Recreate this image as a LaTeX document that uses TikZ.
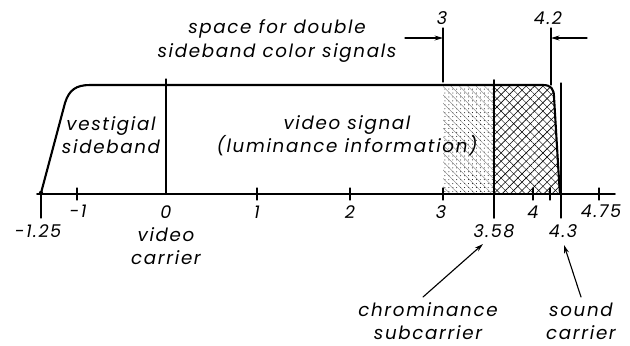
\documentclass[tikz,border=0pt]{standalone}
\usepackage{fontspec}
\setmainfont{Poppins}[LetterSpace=9]
\usetikzlibrary{arrows.meta,patterns.meta}
\tikzset{
  every picture/.style={
    line join=round,
    line cap=round,
    >={Stealth[length=6pt,width=3.5pt]},
  },
  lbl/.style={font=\fontsize{13}{16.5}\selectfont\itshape, align=center, inner sep=0pt},
  num/.style={font=\fontsize{12.5}{14}\selectfont\itshape, inner sep=0pt},
  axisline/.style={line width=1.2pt},
  envelope/.style={line width=1.5pt},
  marker/.style={line width=0.8pt},
  hatchR/.style={pattern={Lines[angle=45,distance=4.2pt,line width=0.45pt]}},
  hatchRx/.style={pattern={Lines[angle=-45,distance=4.2pt,line width=0.3pt]}},
  hatchL/.style={pattern={Dots[distance=2.8pt,radius=0.35pt]}},
  hatchLx/.style={pattern={Lines[angle=-45,distance=4.2pt,line width=0.25pt]}, pattern color=black!55},
}

\begin{document}
\begin{tikzpicture}[x=0.025cm, y=-0.025cm]
\useasboundingbox (0,0) rectangle (630,345);

% colour band, 3 to 4.2
\fill[hatchL]  (443,85) rectangle (494,194);
\fill[hatchLx] (443,85) rectangle (494,194);
\fill[hatchR]
  (494,85) -- (543,85) .. controls (551,85) and (554,89) .. (554,97)
  -- (559,180) -- (560,194) -- (494,194) -- cycle;
\fill[hatchRx]
  (494,85) -- (543,85) .. controls (551,85) and (554,89) .. (554,97)
  -- (559,180) -- (560,194) -- (494,194) -- cycle;

% envelope
\draw[envelope] (41,193) -- (65,103) .. controls (69,90) and (76,85) .. (90,85)
  -- (543,85) .. controls (551,85) and (554,89) .. (554,97) -- (559,180) -- (560,194);
\fill (41,193) circle (2.2);

% axis
\draw[axisline] (37,194) -- (615,194);
\foreach \x in {77,257,350,443,533,550,599}
  \draw[marker] (\x,188) -- (\x,200);
\foreach \x in {41,561}
  \draw[marker] (\x,194) -- (\x,218);
\draw[marker] (561,83) -- (561,194);
\draw[marker] (166,79) -- (166,194);
\draw[line width=1.3pt] (494,80) -- (494,218);

% scale numbers
\node[num] (m125) at (38,231) {-1.25};
\node[num] (m1)   at (78,211) {-1};
\node[num] (z0)   at (166,212) {0};
\node[num] (p1)   at (257,212) {1};
\node[num] (p2)   at (350,212) {2};
\node[num] (p3)   at (441,212) {3};
\node[num] (p4)   at (533,212) {4};
\node[num] (p475) at (601,211) {4.75};
\node[num] (p358) at (494,231) {3.58};
\node[num] (p43)  at (563,231) {4.3};
\node[lbl] (vcar) at (166,246) {video\\carrier};

% band labels
\node[lbl] (vest) at (111,135) {vestigial\\sideband};
\node[lbl] (vsig) at (347,136) {video signal\\(luminance information)};
\node[lbl] (dsb)  at (277,41)  {space for double\\sideband color signals};

% 3 and 4.2 markers
\node[num] (t3)  at (442,18) {3};
\node[num] (t42) at (548,18) {4.2};
\coordinate (d3a) at (443,28);  \coordinate (d3b) at (443,82);
\coordinate (d42a) at (551,28); \coordinate (d42b) at (551,85);
\draw[marker] (d3a) -- (d3b);
\draw[marker] (d42a) -- (d42b);
\draw[marker,->] (405,38) -- (d3a |- 0,38);
\draw[marker,->] (587,38) -- (d42a |- 0,38);

% carrier pointers
\node[lbl] (chroma) at (428,321) {chrominance\\subcarrier};
\node[lbl] (sound)  at (581,321) {sound\\carrier};
\coordinate (chtail) at (423,297); \coordinate (chtip) at (483,244);
\coordinate (sdtail) at (581,297); \coordinate (sdtip) at (564,245);
\draw[marker,->] (chtail) -- (chtip);
\draw[marker,->] (sdtail) -- (sdtip);
\end{tikzpicture}
\end{document}
